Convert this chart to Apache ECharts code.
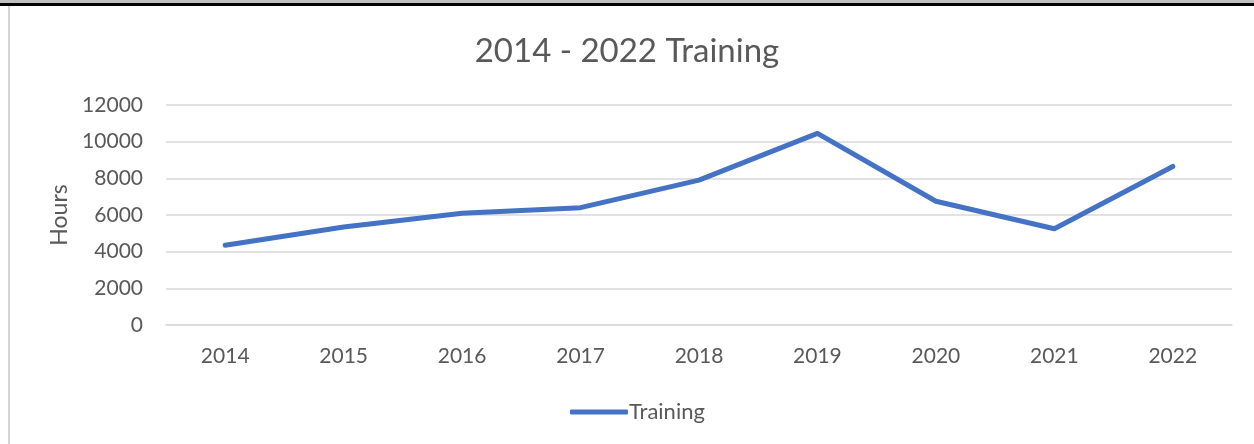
<!DOCTYPE html>
<html>
<head>
<meta charset="utf-8">
<script src="https://cdn.jsdelivr.net/npm/echarts@6/dist/echarts.min.js"></script>
<style>
  html, body { margin: 0; padding: 0; background: #fff; }
  #frame { position: absolute; left: 0; top: 0; width: 1254px; height: 444px; overflow: hidden; }
  #topbar { position: absolute; left: 0; top: 0; width: 1254px; height: 3px; background: #c0c0c0; }
  #topline { position: absolute; left: 0; top: 3px; width: 1254px; height: 3px; background: #000; }
  #leftline { position: absolute; left: 8px; top: 6px; width: 2px; height: 438px; background: #d4d4d4; }
  #main { position: absolute; left: 0; top: 0; width: 1254px; height: 444px; }
</style>
</head>
<body>
<div id="frame">
  <div id="main"></div>
  <div id="topbar"></div>
  <div id="topline"></div>
  <div id="leftline"></div>
</div>
<script>
var years = ['2014', '2015', '2016', '2017', '2018', '2019', '2020', '2021', '2022'];
var training = [4350, 5350, 6100, 6400, 7900, 10450, 6750, 5250, 8650];

var font = 'Lato, "Open Sans", sans-serif';
var textColor = '#595959';

var myChart = echarts.init(document.getElementById('main'));

option = {
    animation: false,
    textStyle: { fontFamily: font },
    title: {
        text: '2014 - 2022 Training',
        left: 'center',
        top: 30,
        textStyle: {
            fontFamily: font,
            fontSize: 33,
            fontWeight: 'normal',
            color: textColor
        }
    },
    legend: {
        data: ['Training'],
        left: 565,
        top: 396,
        icon: 'roundRect',
        itemWidth: 58,
        itemHeight: 5,
        itemGap: 4,
        textStyle: {
            fontFamily: font,
            fontSize: 22,
            color: textColor,
            padding: [0, 0, 0, -4]
        }
    },
    grid: {
        left: 166,
        right: 22,
        top: 105,
        bottom: 119
    },
    xAxis: [{
        type: 'category',
        data: years,
        boundaryGap: true,
        axisTick: { show: false },
        axisLine: { lineStyle: { color: '#d9d9d9', width: 1.5 } },
        axisLabel: {
            margin: 21,
            fontFamily: font,
            fontSize: 21,
            color: textColor
        }
    }],
    yAxis: [{
        type: 'value',
        min: 0,
        max: 12000,
        interval: 2000,
        name: 'Hours',
        nameLocation: 'middle',
        nameGap: 95,
        nameTextStyle: {
            fontFamily: font,
            fontSize: 23,
            color: textColor
        },
        axisLine: { show: false },
        axisTick: { show: false },
        splitLine: { lineStyle: { color: '#d9d9d9', width: 1.5 } },
        axisLabel: {
            margin: 23,
            fontFamily: font,
            fontSize: 21,
            color: textColor,
            formatter: function (v) { return String(v); }
        }
    }],
    series: [{
        name: 'Training',
        type: 'line',
        data: training,
        symbol: 'none',
        lineStyle: { color: '#4472C4', width: 5, cap: 'round', join: 'round' },
        itemStyle: { color: '#4472C4' }
    }]
};

myChart.setOption(option);
</script>
</body>
</html>
